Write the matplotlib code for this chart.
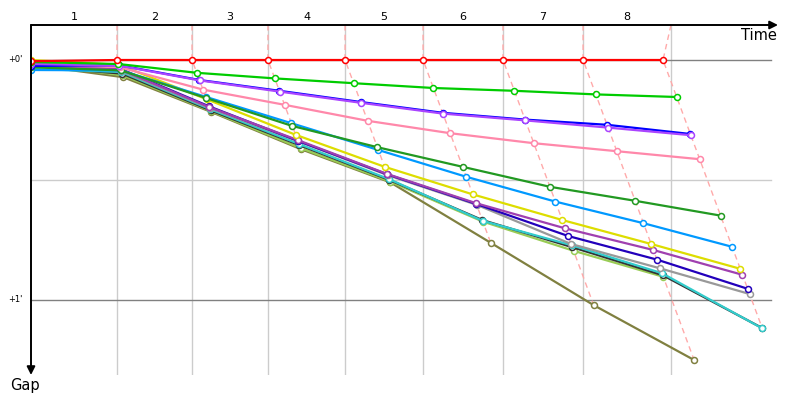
import numpy as np
import matplotlib
matplotlib.use('Agg')
import matplotlib.pyplot as plt
import matplotlib.transforms as mtransforms

# leader lap times (s) and the time of the last grid line
leader_laps = [58.1, 50.7, 51.3, 52.1, 52.7, 54.0, 54.1, 54.0]
finish_time = 432.4
lap_labels = ['1', '2', '3', '4', '5', '6', '7', '8']

# gap to leader (s) at start and after every lap
gap_red = [0.3, 0, 0, 0, 0, 0, 0, 0, 0]
gap_green = [0.5, 1.0, 3.2, 4.6, 5.8, 7.0, 7.7, 8.6, 9.25]
gap_blue = [1.5, 1.3, 5.0, 7.7, 10.5, 13.2, 14.9, 16.2, 18.5]
gap_violet = [1.0, 1.4, 5.1, 7.9, 10.7, 13.4, 15.1, 16.9, 18.8]
gap_pink = [1.2, 1.8, 7.4, 11.2, 15.2, 18.3, 20.8, 22.8, 24.8]
gap_darkgreen = [1.8, 2.6, 9.5, 16.5, 21.8, 26.7, 31.7, 35.2, 38.9]
gap_sky = [2.5, 2.6, 9.2, 15.8, 22.5, 29.2, 35.4, 40.8, 46.7]
gap_yellow = [0.0, 1.2, 9.8, 18.7, 26.7, 33.6, 40.0, 46.0, 52.2]
gap_magenta = [1.6, 2.4, 11.8, 20.0, 28.5, 35.8, 42.1, 47.5, 53.7]
gap_darkblue = [1.4, 2.2, 11.6, 20.2, 28.6, 36.0, 44.0, 49.9, 57.2]
gap_grey = [0.4, 2.7, 12.0, 20.3, 28.8, 36.2, 46.0, 52.1, 58.5]
gap_black = [1.6, 3.4, 12.6, 21.3, 30.0, 40.0, 46.8, 53.8, 67.0]
gap_cyan = [2.2, 3.0, 12.3, 21.0, 29.8, 40.2, 46.3, 53.3, 67.1]
gap_lightgreen = [1.0, 3.8, 12.8, 22.0, 30.4, 40.4, 47.7, 54.2]
gap_olive = [1.2, 4.3, 13.0, 22.3, 30.6, 45.7, 61.3, 75.0]

# drawn from back to front
drivers = [
    (gap_olive, '#808040'),
    (gap_lightgreen, '#99cc55'),
    (gap_black, '#333333'),
    (gap_cyan, '#33cccc'),
    (gap_grey, '#999999'),
    (gap_darkblue, '#2200bb'),
    (gap_magenta, '#a040b0'),
    (gap_yellow, '#dddd00'),
    (gap_sky, '#0099ff'),
    (gap_darkgreen, '#229922'),
    (gap_pink, '#ff88aa'),
    (gap_blue, '#0000ff'),
    (gap_violet, '#aa44ff'),
    (gap_green, '#00cc00'),
    (gap_red, '#ff0000'),
]

leader_t = np.concatenate([[0], np.cumsum(leader_laps)])
grid_x = list(leader_t[1:-1]) + [finish_time]

fig = plt.figure(figsize=(8, 4), dpi=100)
ax = fig.add_axes([31 / 800, 25 / 400, 747 / 800, 350 / 400])
ax.set_xlim(0, 504.7)
ax.set_ylim(78.75, -8.75)
ax.set_axis_off()

# grid
for gx in grid_x:
    ax.axvline(gx, color='#cccccc', lw=1, zorder=1)
ax.plot([0, 500], [30, 30], color='#cccccc', lw=1, zorder=1)
ax.plot([0, 500], [0, 0], color='#808080', lw=1, zorder=1)
ax.plot([0, 500], [60, 60], color='#808080', lw=1, zorder=1)

# lap lines (dashed, joining markers of the same lap)
for k in range(1, len(leader_t)):
    pts = []
    for gaps, c in drivers:
        if k < len(gaps):
            pts.append((leader_t[k] + gaps[k], gaps[k]))
    pts.sort(key=lambda p: p[1])
    xs = [grid_x[k - 1]] + [p[0] for p in pts]
    ys = [-8.75] + [p[1] for p in pts]
    ax.plot(xs, ys, color='#ffaaaa', lw=1, ls=(0, (4, 3)), zorder=2)

# driver lines
for gaps, c in drivers:
    g = np.array(gaps)
    x = leader_t[:len(g)] + g
    x[0] = 0
    ax.plot(x, g, '-o', color=c, lw=1.6, ms=4.3, mfc='white', mec=c, mew=1.1, zorder=3)

# axes arrows
ax.annotate('', xy=(1, 1), xytext=(0, 1), xycoords='axes fraction',
            arrowprops=dict(arrowstyle='-|>', color='black', lw=1.4, mutation_scale=12,
                            shrinkA=0, shrinkB=0))
ax.annotate('', xy=(0, 0), xytext=(0, 1), xycoords='axes fraction',
            arrowprops=dict(arrowstyle='-|>', color='black', lw=1.4, mutation_scale=12,
                            shrinkA=0, shrinkB=0))

trans = mtransforms.blended_transform_factory(ax.transData, ax.transAxes)
edges = [0] + grid_x
for i, lab in enumerate(lap_labels):
    ax.text((edges[i] + edges[i + 1]) / 2, 1.023, lab, transform=trans,
            ha='center', va='center', fontsize=8, family='DejaVu Sans')

ytrans = mtransforms.blended_transform_factory(ax.transAxes, ax.transData)
ax.text(-0.011, 0, "+0'", transform=ytrans, ha='right', va='center', fontsize=6)
ax.text(-0.011, 60, "+1'", transform=ytrans, ha='right', va='center', fontsize=6)

ax.text(0.9987, 0.971, 'Time', transform=ax.transAxes, ha='right', va='center', fontsize=10.5)
ax.text(-0.008, -0.03, 'Gap', transform=ax.transAxes, ha='center', va='center',
        fontsize=10.5, clip_on=False)

fig.savefig('out.png', dpi=100)
